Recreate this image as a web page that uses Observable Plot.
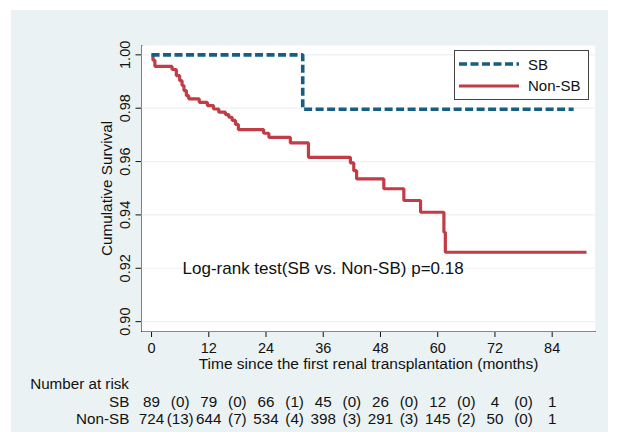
<!DOCTYPE html>
<html><head><meta charset="utf-8">
<script src="https://cdn.jsdelivr.net/npm/d3@7"></script>
<script src="https://cdn.jsdelivr.net/npm/@observablehq/plot@0.6"></script>
<style>
html,body{margin:0;padding:0;background:#fff;}
#wrap{position:relative;width:621px;height:443px;font-family:"Liberation Sans",Arial,sans-serif;color:#111;}
#bg{position:absolute;left:11px;top:10px;width:597px;height:422px;background:#eaf2f3;}
#chart{position:absolute;left:0;top:0;}
#chart g[aria-label^="x-axis"] text, #chart g[aria-label^="y-axis"] text{font-size:14.5px;}
#legend{position:absolute;left:454px;top:50px;width:133px;height:48px;border:1px solid #444;background:#fff;}
#legend .item{position:absolute;left:4px;height:20px;display:flex;align-items:center;font-size:15px;}
#legend .item svg{display:block;margin-right:9px;}
</style></head>
<body>
<div id="wrap"><div id="bg"></div><div id="chart"></div><div id="legend"></div></div>
<script>
// ---- data ----
const groups = ["SB", "Non-SB"];
const sbTime = [0, 31.7, 88.5];
const sbSurv = [1.0, 0.9796, 0.9796];
const nonTime = [0, 0.3, 0.7, 4.3, 5.2, 5.9, 6.4, 6.8, 7.3, 7.8, 10.0, 11.7, 13.0, 14.1, 15.5, 16.2, 16.9, 17.6, 18.2, 23.5, 24.6, 29.1, 32.9, 41.7, 42.4, 43.0, 48.7, 52.9, 56.4, 61.3, 61.6, 91.2];
const nonSurv = [1.0, 0.998, 0.9957, 0.9945, 0.9922, 0.9903, 0.9885, 0.9866, 0.9847, 0.9835, 0.9822, 0.981, 0.9797, 0.9785, 0.9776, 0.9766, 0.9754, 0.9739, 0.972, 0.9706, 0.9691, 0.967, 0.9616, 0.9595, 0.9566, 0.9535, 0.9498, 0.9454, 0.941, 0.9335, 0.926, 0.926];
const xTicks = [0, 12, 24, 36, 48, 60, 72, 84];
const yTicks = [0.90, 0.92, 0.94, 0.96, 0.98, 1.00];
const riskTimes = [0, 12, 24, 36, 48, 60, 72, 84];
const eventTimes = [6, 18, 30, 42, 54, 66, 78];
const sbRisk = [89, 79, 66, 45, 26, 12, 4, 1];
const sbEvents = [0, 0, 1, 0, 0, 0, 0];
const nonRisk = [724, 644, 534, 398, 291, 145, 50, 1];
const nonEvents = [13, 7, 4, 3, 3, 2, 0];
const xLabel = "Time since the first renal transplantation (months)";
const yLabel = "Cumulative Survival";
const riskTitle = "Number at risk";
const logrankText = "Log-rank test(SB vs. Non-SB) p=0.18";
const logrankPos = [{t: 6.5, s: 0.92}];

// ---- styles ----
const blue = "#175e84", red = "#c23c45", grid = "#eaf2f3", ink = "#111";

const sbData = sbTime.map((t, i) => ({t, s: sbSurv[i]}));
const nonData = nonTime.map((t, i) => ({t, s: nonSurv[i]}));

const txt = {fill: ink, lineAnchor: "middle"};

const chart = Plot.plot({
  width: 621, height: 443,
  marginLeft: 141.5, marginRight: 26.4, marginTop: 45, marginBottom: 112,
  style: {background: "transparent", fontFamily: "'Liberation Sans', Arial, sans-serif", color: ink, overflow: "visible"},
  x: {domain: [-2, 93], ticks: xTicks, tickSize: 6, tickPadding: 5, line: true, label: null},
  y: {domain: [0.8963, 1.0035], ticks: yTicks, tickFormat: d3.format(".2f"), tickRotate: -90, tickSize: 6, tickPadding: 6, line: true, label: null},
  marks: [
    Plot.frame({fill: "white", stroke: "none"}),
    Plot.ruleY(yTicks, {stroke: grid, strokeWidth: 1.2}),
    Plot.line(nonData, {x: "t", y: "s", curve: "step-after", stroke: red, strokeWidth: 3.2, strokeLinecap: "butt", strokeLinejoin: "miter"}),
    Plot.line(sbData, {x: "t", y: "s", curve: "step-after", stroke: blue, strokeWidth: 3.6, strokeDasharray: "8,3.5", strokeLinecap: "butt", strokeLinejoin: "miter"}),
    Plot.text(logrankPos, {...txt, x: "t", y: "s", text: () => logrankText, textAnchor: "start", fontSize: 17}),
    Plot.text([xLabel], {...txt, frameAnchor: "bottom", textAnchor: "middle", dy: 32.5, fontSize: 15.5}),
    Plot.text([yLabel], {...txt, frameAnchor: "left", textAnchor: "middle", rotate: -90, dx: -34.5, fontSize: 15.3}),
    Plot.text([riskTitle], {...txt, frameAnchor: "bottom-left", textAnchor: "start", dx: -111.8, dy: 53, fontSize: 15.2}),
    Plot.text([groups[0]], {...txt, frameAnchor: "bottom-left", textAnchor: "end", dx: -12.7, dy: 70.7, fontSize: 15.2}),
    Plot.text([groups[1]], {...txt, frameAnchor: "bottom-left", textAnchor: "end", dx: -12.7, dy: 87.3, fontSize: 15.2}),
    Plot.text(sbRisk, {...txt, x: (d, i) => riskTimes[i], text: d => String(d), frameAnchor: "bottom", textAnchor: "middle", dy: 70.7, fontSize: 15.2}),
    Plot.text(sbEvents, {...txt, x: (d, i) => eventTimes[i], text: d => `(${d})`, frameAnchor: "bottom", textAnchor: "middle", dy: 70.7, fontSize: 15.2}),
    Plot.text(nonRisk, {...txt, x: (d, i) => riskTimes[i], text: d => String(d), frameAnchor: "bottom", textAnchor: "middle", dy: 87.3, fontSize: 15.2}),
    Plot.text(nonEvents, {...txt, x: (d, i) => eventTimes[i], text: d => `(${d})`, frameAnchor: "bottom", textAnchor: "middle", dy: 87.3, fontSize: 15.2})
  ]
});
document.getElementById("chart").appendChild(chart);

// ---- legend ----
const legend = document.getElementById("legend");
const legendStyles = [
  {color: blue, width: 3.6, dash: "8,3.5"},
  {color: red, width: 3.2, dash: null}
];
groups.forEach((g, i) => {
  const item = document.createElement("div");
  item.className = "item";
  item.style.top = (3.3 + i * 21.4) + "px";
  const st = legendStyles[i];
  item.innerHTML = `<svg width="60" height="8"><line x1="0" x2="60" y1="4" y2="4" stroke="${st.color}" stroke-width="${st.width}" ${st.dash ? `stroke-dasharray="${st.dash}"` : ""}/></svg><span>${g}</span>`;
  legend.appendChild(item);
});
</script>
</body></html>
